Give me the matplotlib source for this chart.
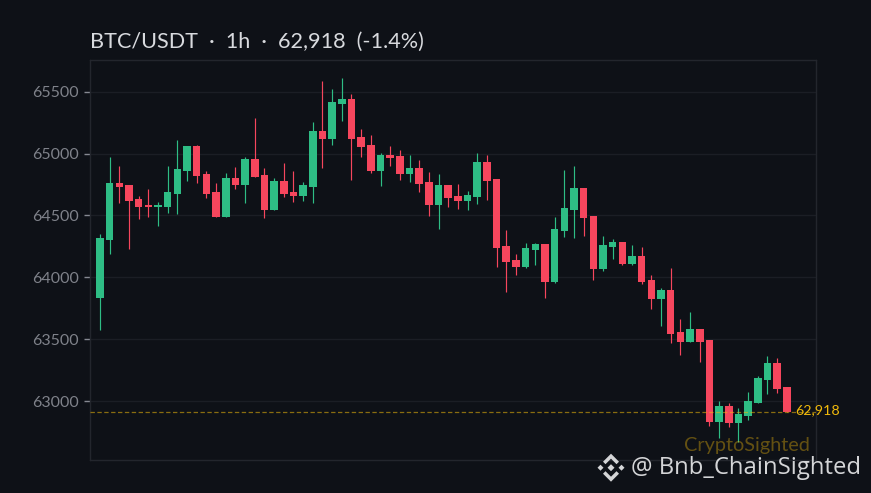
import matplotlib
matplotlib.use('Agg')
import matplotlib.pyplot as plt
from matplotlib.patches import Polygon
from matplotlib.transforms import Affine2D

W, H = 871, 493

opens = [63836, 64301, 64761, 64745, 64632, 64583, 64567, 64567, 64672, 64858, 65059, 64833,
         64688, 64487, 64801, 64745, 64954, 64825, 64543, 64777, 64688, 64656, 64729, 65180,
         65116, 65398, 65438, 65132, 65067, 64858, 64987, 64979, 64833, 64882, 64769, 64583,
         64745, 64656, 64616, 64648, 64930, 64793, 64253, 64140, 64083, 64220, 64269, 63962,
         64374, 64543, 64720, 64495, 64067, 64245, 64285, 64108, 64172, 63979, 63825, 63898,
         63559, 63481, 63583, 63495, 62833, 62962, 62825, 62882, 62987, 63172, 63309, 63116]
highs = [64349, 64970, 64898, 64745, 64656, 64712, 64608, 64898, 65108, 65059, 65067, 64858,
         64761, 64841, 64890, 64970, 65285, 64882, 64801, 64922, 64858, 64769, 65253, 65583,
         65519, 65608, 65478, 65196, 65148, 65003, 65059, 65027, 64987, 64946, 64849, 64833,
         64745, 64753, 64696, 65003, 64987, 64793, 64382, 64188, 64277, 64277, 64269, 64487,
         64866, 64898, 64720, 64495, 64333, 64309, 64285, 64261, 64245, 64019, 63914, 64075,
         63664, 63720, 63583, 63495, 63003, 62987, 62946, 63075, 63204, 63366, 63349, 63116]
lows = [63575, 64188, 64597, 64228, 64470, 64487, 64414, 64519, 64511, 64777, 64761, 64640,
        64487, 64487, 64712, 64600, 64809, 64479, 64543, 64648, 64608, 64616, 64600, 64882,
        65067, 65261, 64785, 64970, 64841, 64737, 64898, 64785, 64769, 64688, 64495, 64390,
        64567, 64551, 64543, 64591, 64624, 64083, 63882, 64019, 64075, 64100, 63833, 63954,
        64325, 64317, 64333, 63979, 64051, 64148, 64102, 64100, 63946, 63745, 63608, 63471,
        63374, 63481, 63317, 62801, 62704, 62793, 62672, 62849, 62987, 63059, 63067, 62918]
closes = [64317, 64761, 64729, 64616, 64567, 64567, 64583, 64688, 64874, 65059, 64817, 64672,
          64487, 64801, 64745, 64954, 64809, 64543, 64777, 64672, 64656, 64745, 65180, 65116,
          65414, 65438, 65116, 65051, 64858, 64987, 64962, 64833, 64882, 64753, 64583, 64745,
          64640, 64616, 64664, 64930, 64777, 64237, 64124, 64083, 64237, 64269, 63962, 64390,
          64559, 64720, 64479, 64067, 64261, 64285, 64108, 64172, 63962, 63825, 63898, 63543,
          63479, 63583, 63481, 62833, 62962, 62825, 62898, 63003, 63188, 63309, 63100, 62918]

yticks = [63000, 63500, 64000, 64500, 65000, 65500]
last_price = 62918
title = 'BTC/USDT  ·  1h  ·  62,918  (-1.4%)'

BG = '#0e1117'
UP = '#2ebd85'
DOWN = '#f6465d'
GOLD = '#f0b90b'
FONT = 'Lato'

fig = plt.figure(figsize=(W / 100, H / 100), dpi=100, facecolor=BG)
ax = fig.add_axes([90.3 / W, 1 - 460 / H, (816.3 - 90.3) / W, (460 - 60.3) / H], facecolor=BG)

for i in range(len(opens)):
    color = UP if closes[i] >= opens[i] else DOWN
    ax.vlines(i, lows[i], highs[i], color=color, lw=0.85, zorder=3)
    ax.bar(i, abs(closes[i] - opens[i]), bottom=min(opens[i], closes[i]), width=0.78,
           color=color, linewidth=0, zorder=4)

ax.set_xlim(-1, 74.05)
ax.set_ylim(62527, 65752)
ax.set_xticks([])
ax.set_yticks(yticks)
ax.set_yticklabels([str(t) for t in yticks], fontname=FONT, fontsize=11.5, color='#7f828a')
ax.tick_params(axis='y', length=4, width=1, color='#868992', pad=4)
ax.grid(axis='y', color='#1b1e25', lw=1, zorder=0)
ax.set_axisbelow(True)
for s in ax.spines.values():
    s.set_color('#23262d')
    s.set_linewidth(1)

ax.axhline(last_price, color=GOLD, lw=0.9, ls=(0, (3.5, 2)), alpha=0.55, zorder=5)

fig.text(90 / W, 1 - 42 / H, title, fontname=FONT, fontsize=15.6, color='#d8dade',
         ha='left', va='center')
fig.text(795 / W, 1 - 410.5 / H, f'{last_price:,}', fontname=FONT, fontsize=10.3, color=GOLD,
         ha='left', va='center')
fig.text(684 / W, 1 - 445 / H, 'CryptoSighted', fontname=FONT, fontsize=14.3,
         color=GOLD, alpha=0.38, ha='left', va='center')
fig.text(631 / W, 1 - 468 / H, '@ Bnb_ChainSighted', family='Open Sans', fontsize=17.2,
         color='#d4d5d7', ha='left', va='center')

# binance logo, pixel offsets from its centre
logo_parts = [
    [(0, -3.5), (3.5, 0), (0, 3.5), (-3.5, 0)],
    [(-13.5, 0), (-10.5, -3), (-7.5, 0), (-10.5, 3)],
    [(13.5, 0), (10.5, -3), (7.5, 0), (10.5, 3)],
    [(0, 14), (-8, 6), (-5.5, 3.5), (0, 9), (5.5, 3.5), (8, 6)],
    [(0, -14), (-8, -6), (-5.5, -3.5), (0, -9), (5.5, -3.5), (8, -6)],
]
logo_pos = Affine2D().translate(611, H - 467.7)
for part in logo_parts:
    fig.add_artist(Polygon(part, closed=True, facecolor='#d4d5d7', edgecolor='none',
                           transform=logo_pos))

fig.savefig('out.png', dpi=100, facecolor=BG)
